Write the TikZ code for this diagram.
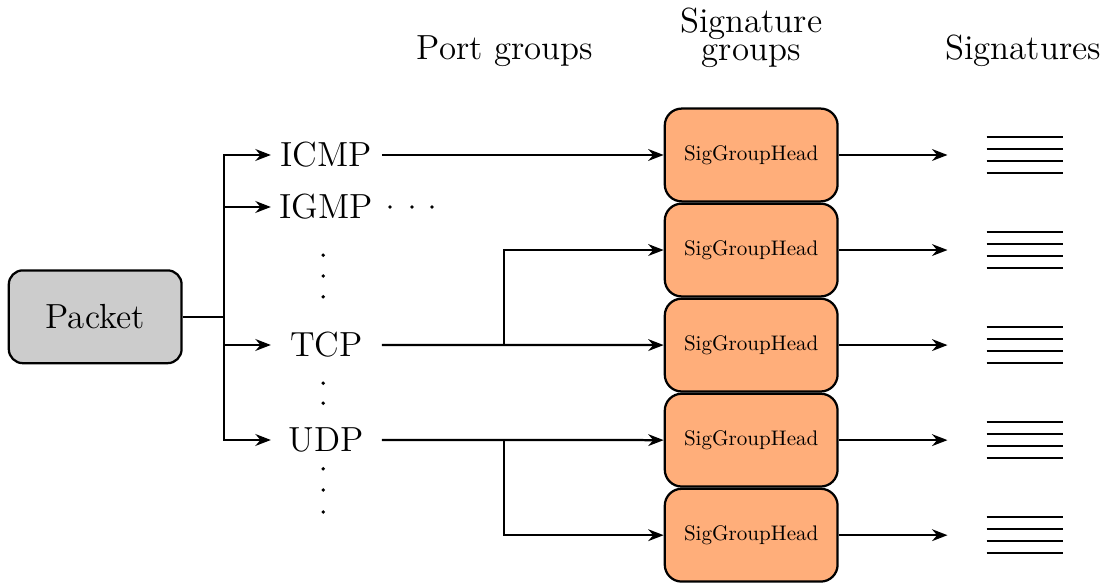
\documentclass[tikz,border=0pt]{standalone}
\usepackage[usenames,dvipsnames]{xcolor}
\usepackage{tikz}
\usetikzlibrary{arrows.meta,calc,positioning}

\definecolor{headfill}{RGB}{255,174,122}

\begin{document}
\begin{tikzpicture}[
		packetbox/.style={rectangle, rounded corners=5pt, draw, thick, fill=gray!40, minimum width=2.16cm, minimum height=1.16cm, font=\fontsize{12.4}{15}\selectfont},
		port/.style={minimum width=1.36cm, inner sep=0pt, font=\fontsize{12.4}{15}\selectfont},
		head/.style={rectangle, rounded corners=6pt, draw, thick, fill=headfill, minimum width=2.16cm, minimum height=1.16cm, font=\normalsize},
		siglist/.style={minimum width=1.91cm, minimum height=0.6cm, inner sep=0pt,
			path picture={\foreach \yy in {-0.225,-0.075,0.075,0.225}
				\draw[-, thick] ($(path picture bounding box.center)+(-0.48,\yy)$) -- ++(0.96,0);}},
		title/.style={font=\fontsize{12.4}{15}\selectfont, align=center},
		thick, ->, >={Stealth[length=5.5pt, width=4.2pt]}
		]
		\useasboundingbox (0,0) rectangle (13.9,-7.2875);
	
		% titles
		\node[title, anchor=base] (portgroups) at (6.31,-0.75) {Port groups};
		\node[title] (siggroups) at (9.39,-0.47) {Signature\\[-5.2pt]groups};
		\node[title, anchor=base] (signatures) at (12.79,-0.75) {Signatures};
	
		% packet and port groups
		\node[packetbox] (packet) at (1.19,-3.96) {Packet};
		\node[port] (icmp) at (4.08,-1.9375) {ICMP};
		\node[port] (igmp) at (4.08,-2.5875) {IGMP};
		\node[port] (tcp) at (4.08,-4.3125) {TCP};
		\node[port] (udp) at (4.08,-5.5) {UDP};
	
		\coordinate (bus) at (2.8,-3.96);
		\draw[-] (packet.east) -- (bus);
		\foreach \p in {icmp,igmp,tcp,udp}
			\draw (bus) |- (\p.west);
	
		% dots
		\foreach \yy in {-3.19,-3.45,-3.71,-4.79,-5.04,-5.86,-6.125,-6.4}
			\fill[-] (4.04,\yy) circle (0.024);
		\foreach \xx in {4.875,5.15,5.4}
			\fill[-] (\xx,-2.5875) circle (0.024);
	
		% signature group heads
		\node[head] (head1) at (9.39,-1.9375) {\scalebox{0.75}{SigGroupHead}};
		\node[head, below=0pt of head1] (head2) {\scalebox{0.75}{SigGroupHead}};
		\node[head, below=0pt of head2] (head3) {\scalebox{0.75}{SigGroupHead}};
		\node[head, below=0pt of head3] (head4) {\scalebox{0.75}{SigGroupHead}};
		\node[head, below=0pt of head4] (head5) {\scalebox{0.75}{SigGroupHead}};
	
		\coordinate (tcpfork) at (6.3,-4.3125);
		\coordinate (udpfork) at (6.3,-5.5);
		\draw (icmp.east) -- (head1.west);
		\draw (tcp.east) -- (head3.west);
		\draw (udp.east) -- (head4.west);
		\draw (tcpfork) |- (head2.west);
		\draw (udpfork) |- (head5.west);
	
		% signatures
		\foreach \i in {1,...,5}{
			\node[siglist, right=1.36cm of head\i] (sig\i) {};
			\draw (head\i.east) -- (sig\i.west);
		}
	\end{tikzpicture}
\end{document}
